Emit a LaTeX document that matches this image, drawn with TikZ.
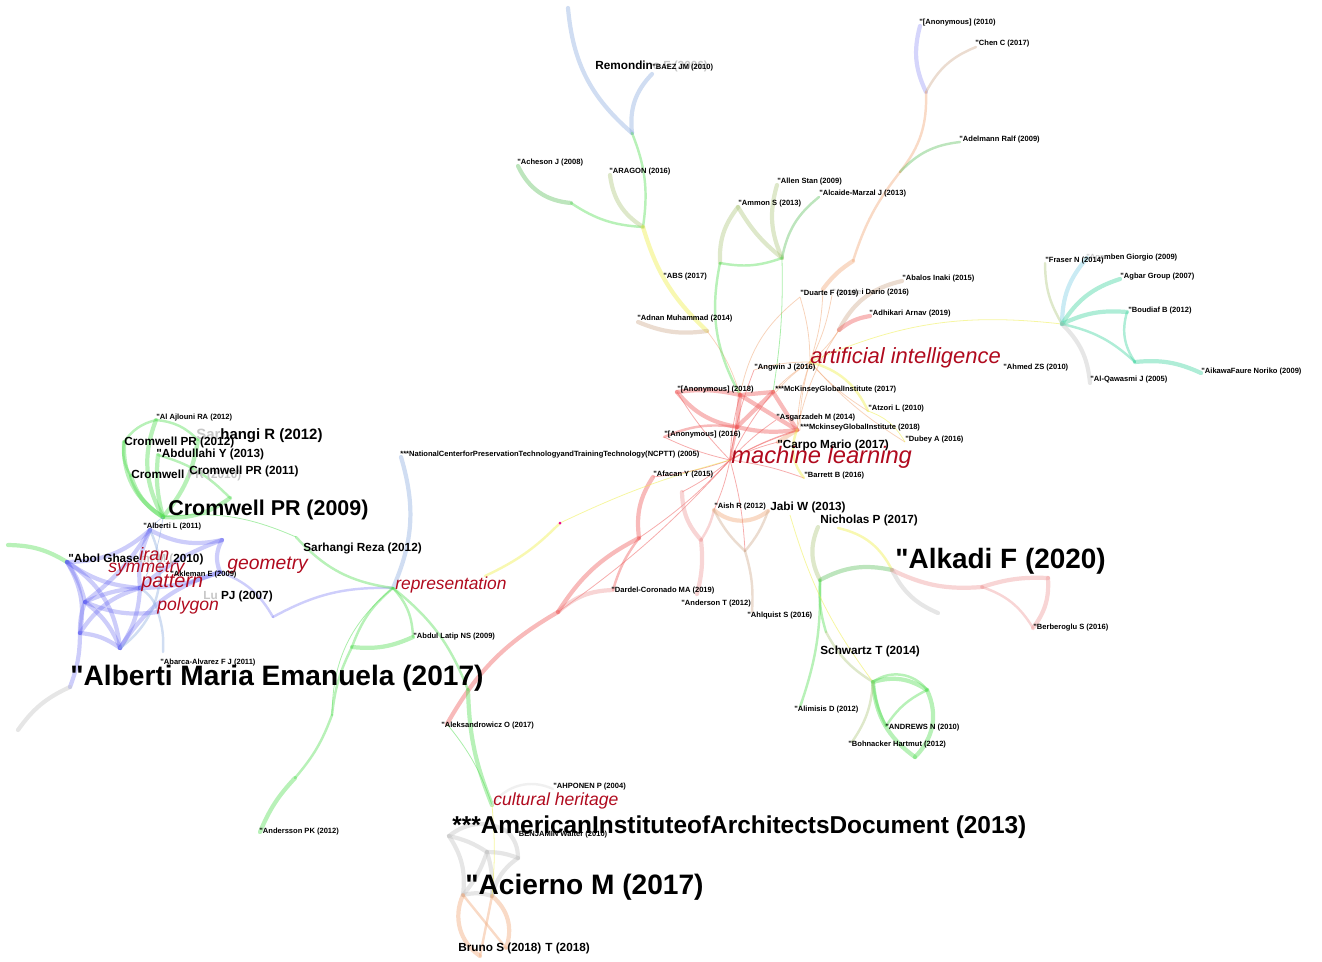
\documentclass[tikz,border=0pt]{standalone}
\usepackage{fontspec}
\setmainfont{Liberation Sans}[Ligatures=TeXOff]
\usepackage{xcolor}
\usepackage{tikz}
\usetikzlibrary{calc}
\definecolor{linkBlue}{HTML}{8FAEE0}
\definecolor{linkGreen}{HTML}{55DD55}
\definecolor{linkViolet}{HTML}{5A5AF0}
\definecolor{linkRed}{HTML}{EE5A5A}
\definecolor{linkPink}{HTML}{EE9A9A}
\definecolor{linkOrange}{HTML}{F0A878}
\definecolor{linkTan}{HTML}{D0AC90}
\definecolor{linkYellow}{HTML}{EEEE44}
\definecolor{linkTeal}{HTML}{40D4A0}
\definecolor{linkCyan}{HTML}{80D0E4}
\definecolor{linkOlive}{HTML}{B0C880}
\definecolor{linkGray}{HTML}{C4C4C4}
\definecolor{kwRed}{HTML}{B00A1E}
\tikzset{
  edgeThick/.style={line width=2.4pt, draw opacity=.42, line cap=round},
  edgeMid/.style={line width=1.4pt, draw opacity=.42, line cap=round},
  edgeFine/.style={line width=.45pt, draw opacity=.5},
  refTiny/.style={font=\fontsize{4.3}{5}\selectfont\bfseries, anchor=west, inner sep=0pt},
  refMid/.style={font=\fontsize{6.7}{7.5}\selectfont\bfseries, anchor=west, inner sep=0pt},
  refSize/.style={font=\fontsize{#1}{#1}\selectfont\bfseries, anchor=west, inner sep=0pt},
  keyword/.style={font=\fontsize{#1}{#1}\selectfont\itshape, text=kwRed, anchor=west, inner sep=0pt},
}
\newcommand{\faint}[1]{{\color{gray!45}#1}}
\begin{document}
\begin{tikzpicture}[x=0.02cm,y=-0.02cm]
\useasboundingbox (0,0) rectangle (1322,961);

% points of the citation network
\coordinate (remTop) at (568,8);
\coordinate (baez) at (652,74);
\coordinate (tHubA) at (632,133);
\coordinate (tHubB) at (643,227);
\coordinate (acheson) at (518,166);
\coordinate (achMid) at (571,203);
\coordinate (aragon) at (610,175);
\coordinate (adnHub) at (707,331);
\coordinate (adnan) at (638,322);
\coordinate (ammon) at (738,207);
\coordinate (allen) at (777,185);
\coordinate (alcaide) at (819,197);
\coordinate (gHub) at (782,258);
\coordinate (gMid) at (720,263);
\coordinate (anonTen) at (920,26);
\coordinate (chen) at (976,47);
\coordinate (oHubA) at (926,92);
\coordinate (adel) at (960,142);
\coordinate (oHubB) at (900,172);
\coordinate (oHubC) at (853,261);
\coordinate (oMid) at (823,289);
\coordinate (abalos) at (902,281);
\coordinate (adhikari) at (870,316);
\coordinate (aHub) at (839,330);
\coordinate (duarte) at (800,297);
\coordinate (amodei) at (832,295);
\coordinate (aiNode) at (810,362);
\coordinate (mlNode) at (730,460);
\coordinate (anonEig) at (677,392);
\coordinate (rA) at (740,395);
\coordinate (rB) at (737,427);
\coordinate (rC) at (773,392);
\coordinate (rD) at (797,430);
\coordinate (anonSix) at (664,437);
\coordinate (angwin) at (754,370);
\coordinate (mckSev) at (776,392);
\coordinate (asgar) at (776,420);
\coordinate (mckEig) at (800,430);
\coordinate (carpo) at (778,442);
\coordinate (atzori) at (868,411);
\coordinate (dubey) at (905,442);
\coordinate (barrett) at (804,478);
\coordinate (afacan) at (653,477);
\coordinate (rHubTwo) at (639,538);
\coordinate (rHubThree) at (558,612);
\coordinate (dardel) at (613,590);
\coordinate (rHubFour) at (701,540);
\coordinate (rHubFive) at (682,492);
\coordinate (aish) at (714,510);
\coordinate (jabi) at (768,511);
\coordinate (jHub) at (745,551);
\coordinate (anderson) at (697,594);
\coordinate (ahlquist) at (752,612);
\coordinate (magDot) at (560,523);
\coordinate (repEast) at (485,576);
\coordinate (nichol) at (818,527);
\coordinate (nicholE) at (838,528);
\coordinate (nHub) at (820,580);
\coordinate (alkadi) at (892,570);
\coordinate (grayEnd) at (938,613);
\coordinate (kHub) at (982,587);
\coordinate (kHubB) at (1048,578);
\coordinate (berber) at (1033,628);
\coordinate (swMid) at (826,632);
\coordinate (sHub) at (873,682);
\coordinate (sHubB) at (927,690);
\coordinate (gEnd) at (915,757);
\coordinate (andrews) at (886,726);
\coordinate (bohn) at (852,742);
\coordinate (alimisis) at (800,707);
\coordinate (jabiLow) at (790,515);
\coordinate (aHubR) at (1062,324);
\coordinate (fraser) at (1045,263);
\coordinate (agamben) at (1087,258);
\coordinate (agbar) at (1120,279);
\coordinate (boudiaf) at (1127,312);
\coordinate (bHub) at (1135,362);
\coordinate (aikawa) at (1201,373);
\coordinate (qawasmi) at (1090,383);
\coordinate (rep) at (393,588);
\coordinate (ncptt) at (401,457);
\coordinate (bDip) at (273,617);
\coordinate (sarReza) at (296,537);
\coordinate (gROne) at (352,647);
\coordinate (gRTwo) at (332,715);
\coordinate (gRBend) at (295,778);
\coordinate (andersson) at (260,832);
\coordinate (abdulLatip) at (413,637);
\coordinate (gRThree) at (468,690);
\coordinate (culture) at (492,805);
\coordinate (aleks) at (447,724);
\coordinate (cromHub) at (163,517);
\coordinate (ajlouni) at (156,420);
\coordinate (cromTwelve) at (124,442);
\coordinate (abdullahi) at (158,455);
\coordinate (cromEleven) at (230,498);
\coordinate (cromTen) at (131,476);
\coordinate (sarhTwelve) at (198,440);
\coordinate (leftG) at (8,545);
\coordinate (abol) at (67,562);
\coordinate (bA) at (85,602);
\coordinate (bB) at (80,633);
\coordinate (bC) at (120,648);
\coordinate (pat) at (140,588);
\coordinate (alberL) at (150,530);
\coordinate (bD) at (222,540);
\coordinate (bE) at (220,572);
\coordinate (bF) at (158,612);
\coordinate (bG) at (163,652);
\coordinate (alberti) at (70,687);
\coordinate (abarca) at (160,661);
\coordinate (grayL) at (18,730);
\coordinate (qA) at (449,836);
\coordinate (qB) at (518,858);
\coordinate (qC) at (487,852);
\coordinate (qD) at (463,895);
\coordinate (qE) at (508,832);
\coordinate (qF) at (492,896);
\coordinate (oC) at (480,956);
\coordinate (oD) at (506,948);
\coordinate (ahponen) at (553,789);

% top tree
\draw[edgeThick,linkBlue] (remTop) to[bend right=22] (tHubA);
\draw[edgeThick,linkBlue] (baez) to[bend right=25] (tHubA);
\draw[edgeMid,linkGreen] (tHubA) to[bend left=15] (tHubB);
\draw[edgeThick,linkGreen!70!gray] (acheson) to[bend right=30] (achMid);
\draw[edgeMid,linkGreen] (achMid) to[bend right=15] (tHubB);
\draw[edgeThick,linkOlive] (aragon) to[bend right=25] (tHubB);
\draw[edgeThick,linkYellow] (tHubB) to[bend right=15] (adnHub);
\draw[edgeThick,linkTan] (adnan) to[bend right=15] (adnHub);
\draw[edgeFine,linkOrange] (adnHub) to[bend left=10] (rA);
\draw[edgeThick,linkOlive] (ammon) to[bend right=20] (gMid);
\draw[edgeThick,linkOlive] (ammon) to[bend right=10] (gHub);
\draw[edgeThick,linkOlive] (allen) to[bend right=20] (gHub);
\draw[edgeMid,linkGreen!70!gray] (alcaide) to[bend right=20] (gHub);
\draw[edgeMid,linkGreen] (gMid) to[bend right=15] (gHub);
\draw[edgeMid,linkGreen] (gMid) to[bend right=20] (rA);
\draw[edgeFine,linkGreen] (gHub) to[bend left=5] (rC);

% orange chain
\draw[edgeThick,linkViolet!60] (anonTen) to[bend right=20] (oHubA);
\draw[edgeMid,linkTan] (chen) to[bend right=20] (oHubA);
\draw[edgeMid,linkOrange] (oHubA) to[bend left=20] (oHubB);
\draw[edgeMid,linkGreen!70!gray] (adel) to[bend right=20] (oHubB);
\draw[edgeMid,linkOrange] (oHubB) to[bend right=10] (oHubC);
\draw[edgeThick,linkOrange] (oHubC) to[bend right=10] (oMid);
\draw[edgeThick,linkTan] (abalos) to[bend right=25] (aHub);
\draw[edgeThick,linkRed] (adhikari) to[bend right=15] (aHub);
\draw[edgeFine,linkOrange] (aHub) to[bend right=10] (rD);
\draw[edgeFine,linkOrange] (duarte) to[bend right=20] (rA);

% core of machine learning
\draw[edgeThick,linkRed] (anonEig) to[bend left=10] (rA);
\draw[edgeThick,linkRed] (anonEig) to[bend right=20] (rB);
\draw[edgeThick,linkRed] (rA) -- (rC);
\draw[edgeThick,linkRed] (rA) -- (rB);
\draw[edgeThick,linkRed] (rA) -- (rD);
\draw[edgeThick,linkRed] (rB) -- (rC);
\draw[edgeThick,linkRed] (rB) to[bend right=10] (rD);
\draw[edgeThick,linkRed] (rC) -- (rD);
\draw[edgeMid,linkRed] (anonSix) to[bend left=15] (rB);
\draw[edgeMid,linkRed] (rB) -- (mlNode);
\draw[edgeThick,linkOrange] (rD) -- (carpo);
\foreach \t in {anonSix,anonEig,rA,rC,rD,angwin,afacan,rHubFive,rHubTwo,aish,barrett,jHub,carpo,asgar,rHubThree,mckEig}
  \draw[edgeFine,linkRed] (mlNode) to[bend left=6] (\t);
\foreach \t in {oMid,aHub,rC,rD,atzori,dubey,angwin,mckSev,amodei,duarte,mckEig}
  \draw[edgeFine,linkOrange] (aiNode) to[bend right=8] (\t);
\draw[edgeMid,linkYellow] (aiNode) to[bend left=25] (atzori);
\draw[edgeFine,linkYellow] (atzori) to[bend left=20] (dubey);
\draw[edgeMid,linkYellow] (rD) to[bend right=30] (barrett);
\draw[edgeFine,linkYellow] (aHubR) to[bend right=15] (aiNode);

% red branch towards representation
\draw[edgeThick,linkRed] (afacan) to[bend right=20] (rHubTwo);
\draw[edgeMid,linkRed] (rHubTwo) to[bend right=10] (dardel);
\draw[edgeThick,linkPink] (rHubThree) to[bend left=20] (dardel);
\draw[edgeThick,linkRed] (rHubTwo) to[bend right=15] (rHubThree);
\draw[edgeThick,linkRed] (rHubThree) to[bend right=15] (aleks);
\draw[edgeThick,linkPink] (rHubFour) to[bend left=10] (anderson);
\draw[edgeThick,linkPink] (rHubFour) to[bend left=20] (rHubFive);
\draw[edgeMid,linkPink] (rHubFour) to[bend right=10] (aish);
\draw[edgeThick,linkOrange] (aish) to[bend right=40] (jabi);
\draw[edgeMid,linkTan] (jHub) to[bend left=10] (aish);
\draw[edgeMid,linkTan] (jHub) to[bend right=10] (jabi);
\draw[edgeMid,linkTan] (jHub) to[bend left=10] (ahlquist);
\draw[edgeMid,linkYellow] (repEast) to[bend right=10] (magDot);
\draw[edgeFine,linkYellow] (magDot) to[bend left=5] (mlNode);
\fill[magenta] (magDot) circle (1.5);

% right cluster
\draw[edgeMid,linkOlive] (aHubR) to[bend left=15] (fraser);
\draw[edgeThick,linkCyan] (aHubR) to[bend left=20] (agamben);
\draw[edgeThick,linkTeal] (aHubR) to[bend left=20] (agbar);
\draw[edgeThick,linkTeal] (aHubR) to[bend left=15] (boudiaf);
\draw[edgeMid,linkTeal] (boudiaf) to[bend right=25] (bHub);
\draw[edgeMid,linkTeal] (aHubR) to[bend left=15] (bHub);
\draw[edgeThick,linkTeal] (bHub) to[bend left=15] (aikawa);
\draw[edgeThick,linkGray] (aHubR) to[bend left=20] (qawasmi);

% Nicholas, Alkadi and Schwartz
\draw[edgeThick,linkOlive] (nichol) to[bend right=25] (nHub);
\draw[edgeMid,linkYellow] (nicholE) to[bend left=25] (alkadi);
\draw[edgeThick,linkGreen!70!gray] (nHub) to[bend left=20] (alkadi);
\draw[edgeThick,linkGray] (alkadi) to[bend right=20] (grayEnd);
\draw[edgeThick,linkPink] (alkadi) to[bend right=15] (kHub);
\draw[edgeThick,linkPink] (kHub) to[bend left=10] (kHubB);
\draw[edgeThick,linkPink] (kHubB) to[bend left=20] (berber);
\draw[edgeMid,linkPink] (kHub) to[bend left=20] (berber);
\draw[edgeMid,linkGreen] (nHub) to[bend right=10] (swMid);
\draw[edgeMid,linkOlive] (swMid) to[bend right=15] (sHub);
\draw[edgeMid,linkGreen] (nHub) to[bend left=10] (alimisis);
\draw[edgeFine,linkYellow] (jabiLow) to[bend right=10] (sHub);
\draw[edgeThick,linkGreen] (sHub) to[bend left=25] (sHubB);
\draw[edgeMid,linkGreen] (sHub) to[bend left=45] (sHubB);
\draw[edgeThick,linkGreen] (sHub) to[bend right=25] (gEnd);
\draw[edgeThick,linkGreen] (sHubB) to[bend left=35] (gEnd);
\draw[edgeMid,linkGreen] (sHub) to[bend right=10] (andrews);
\draw[edgeMid,linkGreen] (sHubB) to[bend right=15] (andrews);
\draw[edgeMid,linkOlive] (sHub) to[bend left=15] (bohn);

% representation and its branches
\draw[edgeThick,linkBlue] (rep) to[bend right=20] (ncptt);
\draw[edgeMid,linkViolet!70] (bE) to[bend left=20] (bDip);
\draw[edgeMid,linkViolet!70] (bDip) to[bend left=15] (rep);
\draw[edgeFine,linkGreen] (cromHub) to[bend left=15] (sarReza);
\draw[edgeMid,linkGreen] (sarReza) to[bend right=20] (rep);
\draw[edgeMid,linkGreen] (rep) to[bend right=15] (gROne);
\draw[edgeMid,linkGreen] (gROne) to[bend right=10] (gRTwo);
\draw[edgeMid,linkGreen] (gRTwo) to[bend left=10] (gRBend);
\draw[edgeThick,linkGreen] (gRBend) to[bend right=10] (andersson);
\draw[edgeMid,linkGreen] (rep) to[bend left=20] (abdulLatip);
\draw[edgeThick,linkGreen] (gROne) to[bend right=15] (abdulLatip);
\draw[edgeMid,linkGreen] (rep) to[bend left=15] (gRThree);
\draw[edgeThick,linkGreen] (gRThree) to[bend right=10] (culture);
\draw[edgeFine,linkGreen] (aleks) to[bend left=10] (culture);
\draw[edgeFine,linkGreen] (rep) to[bend right=25] (gRTwo);

% Cromwell cluster
\foreach \t/\b in {ajlouni/25,cromTwelve/30,abdullahi/10,cromTen/20,sarhTwelve/-15,cromEleven/-20}
  \draw[edgeThick,linkGreen] (cromHub) to[bend left=\b] (\t);
\draw[edgeMid,linkGreen] (ajlouni) to[bend right=20] (cromTwelve);
\draw[edgeMid,linkGreen] (cromTwelve) to[bend right=20] (cromTen);
\draw[edgeMid,linkGreen] (ajlouni) to[bend left=20] (sarhTwelve);
\draw[edgeMid,linkGreen] (abdullahi) to[bend left=15] (cromEleven);
\draw[edgeThick,linkGreen] (leftG) to[bend left=15] (abol);

% pattern cluster
\foreach \s/\t/\b in {abol/bA/10,abol/pat/-15,abol/bB/20,bA/pat/10,bA/bB/-10,bA/bC/15,bB/bC/15,bC/pat/-15,pat/alberL/15,alberL/bD/-20,pat/bD/10,pat/bE/-10,bD/bE/-25,bB/alberti/10,alberL/abol/20,bC/bE/20,bA/alberL/-10,bB/pat/20,abol/bC/25,bA/bF/-15}
  \draw[edgeThick,linkViolet,draw opacity=.3] (\s) to[bend left=\b] (\t);
\draw[edgeMid,linkBlue] (pat) to[bend left=20] (bF);
\draw[edgeMid,linkBlue] (bF) to[bend left=10] (bG);
\draw[edgeMid,linkBlue] (alberL) to[bend left=40] (bC);
\draw[edgeFine,linkBlue] (pat) to[bend right=10] (cromHub);
\draw[edgeFine,linkBlue] (alberL) to[bend left=10] (cromHub);
\draw[edgeThick,linkGray] (grayL) to[bend left=15] (alberti);

% cultural heritage cluster
\foreach \s/\t/\b in {qA/qC/10,qC/qB/10,qA/qD/20,qD/qF/15,qB/qF/-20,qA/qE/35,qE/qB/20,qC/qD/10,qC/qF/10}
  \draw[edgeThick,linkGray] (\s) to[bend left=\b] (\t);
\draw[edgeThick,linkOrange] (qD) to[bend right=40] (oC);
\draw[edgeThick,linkOrange] (qF) to[bend left=35] (oD);
\draw[edgeMid,linkOrange] (qD) -- (oD);
\draw[edgeMid,linkOrange] (qF) -- (oC);
\draw[edgeFine,linkYellow] (culture) to[bend left=5] (qF);
\draw[edgeMid,linkGray!60] (culture) to[bend left=40] (ahponen);

% keywords
\node[keyword=12.5] (aiL) at (810,358) {artificial intelligence};
\node[keyword=13.5] (mlL) at (731,457) {machine learning};
\node[keyword=9.9] (repL) at (395,585) {representation};
\node[keyword=11] (geomL) at (227,565) {geometry};
\node[keyword=10] (cultL) at (493,801) {cultural heritage};
\node[keyword=11.3] (patL) at (141,583) {pattern};
\node[keyword=10] (polyL) at (157,606) {polygon};
\node[keyword=10] (symL) at (108,569) {symmetry};

% citation labels
\node[refTiny] (anonTenL) at (919,23) {"[Anonymous] (2010)};
\node[refTiny] (chenL) at (975,44) {"Chen C (2017)};
\node[refTiny] (adelL) at (959,140) {"Adelmann Ralf (2009)};
\node[refMid] (remL) at (595,66) {Remondin\faint{o F (2006)}};
\node[refTiny] (baezL) at (652,68) {"BAEZ JM (2010)};
\node[refTiny] (achesonL) at (517,163) {"Acheson J (2008)};
\node[refTiny] (aragonL) at (609,172) {"ARAGON (2016)};
\node[refTiny] (absL) at (663,277) {"ABS (2017)};
\node[refTiny] (adnanL) at (637,319) {"Adnan Muhammad (2014)};
\node[refTiny] (allenL) at (777,182) {"Allen Stan (2009)};
\node[refTiny] (alcaideL) at (819,194) {"Alcaide-Marzal J (2013)};
\node[refTiny] (ammonL) at (738,204) {"Ammon S (2013)};
\node[refTiny] (abalosL) at (902,279) {"Abalos Inaki (2015)};
\node[refTiny] (amodeiL) at (832,293) {\faint{"Amode}i Dario (2016)};
\node[refTiny] (duarteL) at (800,294) {"Duarte F (2019)};
\node[refTiny] (adhikariL) at (869,314) {"Adhikari Arnav (2019)};
\node[refTiny] (angwinL) at (754,368) {"Angwin J (2016)};
\node[refTiny] (anonEigL) at (677,390) {"[Anonymous] (2018)};
\node[refTiny] (mckSevL) at (775,390) {***McKinseyGlobalInstitute (2017)};
\node[refTiny] (atzoriL) at (868,409) {"Atzori L (2010)};
\node[refTiny] (asgarL) at (776,418) {"Asgarzadeh M (2014)};
\node[refTiny] (mckEigL) at (800,428) {***MckinseyGlobalInstitute (2018)};
\node[refTiny] (anonSixL) at (664,435) {"[Anonymous] (2016)};
\node[refTiny] (dubeyL) at (905,440) {"Dubey A (2016)};
\node[refTiny] (barrettL) at (804,476) {"Barrett B (2016)};
\node[refTiny] (afacanL) at (653,475) {"Afacan Y (2015)};
\node[refTiny] (aishL) at (714,507) {"Aish R (2012)};
\node[refTiny] (ncpttL) at (400,455) {***NationalCenterforPreservationTechnologyandTrainingTechnology(NCPTT) (2005)};
\node[refTiny] (dardelL) at (611,591) {"Dardel-Coronado MA (2019)};
\node[refTiny] (andersonL) at (681,604) {"Anderson T (2012)};
\node[refTiny] (ahlquistL) at (747,616) {"Ahlquist S (2016)};
\node[refTiny] (berberL) at (1033,628) {"Berberoglu S (2016)};
\node[refTiny] (alimisisL) at (794,710) {"Alimisis D (2012)};
\node[refTiny] (andrewsL) at (885,728) {"ANDREWS N (2010)};
\node[refTiny] (bohnL) at (848,745) {"Bohnacker Hartmut (2012)};
\node[refTiny] (agambenL) at (1086,258) {\faint{"Aga}mben Giorgio (2009)};
\node[refTiny] (fraserL) at (1045,261) {"Fraser N (2014)};
\node[refTiny] (agbarL) at (1120,277) {"Agbar Group (2007)};
\node[refTiny] (boudiafL) at (1128,311) {"Boudiaf B (2012)};
\node[refTiny] (ahmedL) at (1003,368) {"Ahmed ZS (2010)};
\node[refTiny] (qawasmiL) at (1090,380) {"Al-Qawasmi J (2005)};
\node[refTiny] (aikawaL) at (1201,372) {"AikawaFaure Noriko (2009)};
\node[refTiny] (ajlouniL) at (156,418) {"Al Ajlouni RA (2012)};
\node[refTiny] (alberLL) at (143,527) {"Alberti L (2011)};
\node[refTiny] (aklemanL) at (170,575) {"Akleman E (2009)};
\node[refTiny] (abarcaL) at (160,663) {"Abarca-Alvarez F J (2011)};
\node[refTiny] (abdulLatipL) at (413,637) {"Abdul Latip NS (2009)};
\node[refTiny] (aleksL) at (441,726) {"Aleksandrowicz O (2017)};
\node[refTiny] (anderssonL) at (259,832) {"Andersson PK (2012)};
\node[refTiny] (ahponenL) at (553,787) {"AHPONEN P (2004)};
\node[refTiny] (benjaminL) at (515,835) {"BENJAMIN Walter (2010)};
\node[refSize=8.5] (sarhTwelveL) at (196,436) {\faint{Sar}hangi R (2012)};
\node[refMid] (cromTwelveL) at (124,442) {Cromwell PR (2012)};
\node[refMid] (abdullahiL) at (156,454) {"Abdullahi Y (2013)};
\node[refMid] (cromTenL) at (131,475) {Cromwell \faint{PR (2010)}};
\node[refMid] (cromElevenL) at (189,471) {Cromwell PR (2011)};
\node[refSize=12.2] (cromNineL) at (168,510) {Cromwell PR (2009)};
\node[refMid] (sarRezaL) at (303,548) {Sarhangi Reza (2012)};
\node[refMid] (abolL) at (68,559) {"Abol Ghase\faint{mi M (}2010)};
\node[refMid] (luL) at (203,596) {\faint{Lu} PJ (2007)};
\node[refMid] (carpoL) at (777,445) {"Carpo Mario (2017)};
\node[refMid] (jabiL) at (770,507) {Jabi W (2013)};
\node[refMid] (nicholasL) at (820,520) {Nicholas P (2017)};
\node[refMid] (schwartzL) at (820,651) {Schwartz T (2014)};
\node[refMid] (brunoL) at (458,948) {Bruno S (2018)};
\node[refMid] (tL) at (545,948) {T (2018)};
\node[refSize=16] (albertiL) at (70,678) {"Alberti Maria Emanuela (2017)};
\node[refSize=15.9] (alkadiL) at (895,561) {"Alkadi F (2020)};
\node[refSize=13.9] (aiaL) at (452,827) {***AmericanInstituteofArchitectsDocument (2013)};
\node[refSize=16] (aciernoL) at (465,887) {"Acierno M (2017)};
\node[keyword=10.2] (iranL) at (139,554) {iran};
\end{tikzpicture}
\end{document}
